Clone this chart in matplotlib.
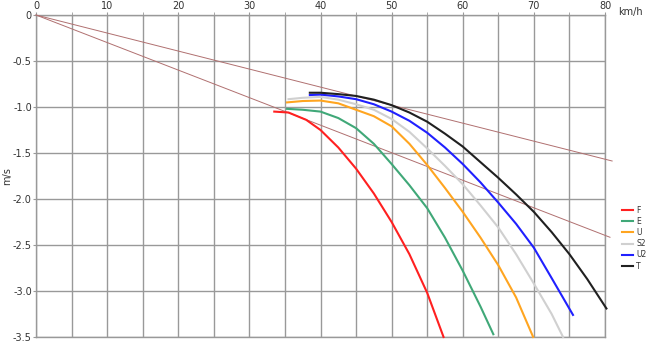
import matplotlib
matplotlib.use("Agg")
import matplotlib.pyplot as plt

# speed (km/h) vs sink rate (m/s)
F_X = [33.5, 35.5, 38.0, 40.0, 42.5, 45.0, 47.5, 50.0, 52.5, 55.0, 57.3]
F_Y = [-1.05, -1.06, -1.14, -1.25, -1.44, -1.67, -1.94, -2.25, -2.60, -3.02, -3.50]

E_X = [35.3, 37.5, 40.0, 42.5, 45.0, 47.5, 50.0, 52.5, 55.0, 57.5, 60.0, 62.5, 64.3]
E_Y = [-1.02, -1.03, -1.05, -1.12, -1.23, -1.40, -1.62, -1.85, -2.10, -2.42, -2.78, -3.17, -3.47]

U_X = [35.3, 37.5, 40.0, 42.5, 45.0, 47.5, 50.0, 52.5, 55.0, 57.5, 60.0, 62.5, 65.0, 67.5, 69.9]
U_Y = [-0.95, -0.935, -0.93, -0.96, -1.03, -1.10, -1.21, -1.40, -1.63, -1.88, -2.14, -2.42, -2.72, -3.07, -3.50]

S2_X = [35.5, 37.5, 40.0, 42.5, 45.0, 47.5, 50.0, 52.5, 55.0, 57.5, 60.0, 62.5, 65.0, 67.5, 70.0, 72.5, 74.1]
S2_Y = [-0.915, -0.90, -0.89, -0.92, -0.97, -1.03, -1.13, -1.27, -1.45, -1.64, -1.84, -2.07, -2.31, -2.60, -2.92, -3.25, -3.50]

U2_X = [38.5, 40.0, 42.5, 45.0, 47.5, 50.0, 52.5, 55.0, 57.5, 60.0, 62.5, 65.0, 67.5, 70.0, 72.5, 75.5]
U2_Y = [-0.87, -0.865, -0.885, -0.915, -0.97, -1.05, -1.15, -1.28, -1.44, -1.62, -1.82, -2.04, -2.27, -2.53, -2.86, -3.26]

T_X = [38.5, 40.0, 42.5, 45.0, 47.5, 50.0, 52.5, 55.0, 57.5, 60.0, 62.5, 65.0, 67.5, 70.0, 72.5, 75.0, 77.5, 80.2]
T_Y = [-0.845, -0.845, -0.86, -0.88, -0.92, -0.98, -1.06, -1.16, -1.29, -1.43, -1.60, -1.77, -1.95, -2.14, -2.36, -2.60, -2.87, -3.19]

# glide lines from the origin
GLIDE1_X = [0, 81.0]
GLIDE1_Y = [0, -1.587]
GLIDE2_X = [0, 80.7]
GLIDE2_Y = [0, -2.416]

SERIES = [
    ("F", F_X, F_Y, "#ff2020"),
    ("E", E_X, E_Y, "#40a878"),
    ("U", U_X, U_Y, "#ffa520"),
    ("S2", S2_X, S2_Y, "#d0d0d0"),
    ("U2", U2_X, U2_Y, "#2020ff"),
    ("T", T_X, T_Y, "#202020"),
]

X_TICKS = [0, 10, 20, 30, 40, 50, 60, 70, 80]
Y_TICKS = [0, -0.5, -1.0, -1.5, -2.0, -2.5, -3.0, -3.5]
Y_LABELS = ["0", "-0.5", "-1.0", "-1.5", "-2.0", "-2.5", "-3.0", "-3.5"]

W, H = 651, 343
fig = plt.figure(figsize=(W / 100, H / 100), dpi=100)
ax = fig.add_axes([36 / W, 6 / H, (605 - 36) / W, (337 - 15) / H])

grid_c = "#999999"
ax.set_xlim(0, 80)
ax.set_ylim(-3.5, 0)
ax.set_xticks([x for x in range(0, 81, 5)], minor=True)
ax.set_xticks(X_TICKS)
ax.set_xticklabels([str(x) for x in X_TICKS])
ax.set_yticks(Y_TICKS)
ax.set_yticklabels(Y_LABELS)
ax.xaxis.tick_top()
ax.grid(True, which="both", color=grid_c, linewidth=1.0)
ax.tick_params(axis="x", which="both", top=True, bottom=False, length=2,
               color=grid_c, labelsize=7, labelcolor="#333333", pad=1)
ax.tick_params(axis="y", length=2, color=grid_c, labelsize=7,
               labelcolor="#333333", pad=1)
for s in ax.spines.values():
    s.set_color(grid_c)
    s.set_linewidth(1.0)

ax.plot(GLIDE1_X, GLIDE1_Y, color="#b07070", lw=0.7, clip_on=False, zorder=3)
ax.plot(GLIDE2_X, GLIDE2_Y, color="#b07070", lw=0.7, clip_on=False, zorder=3)

for name, xs, ys, c in SERIES:
    ax.plot(xs, ys, color=c, lw=1.5, label=name, clip_on=False, zorder=4)

ax.set_ylabel("m/s", fontsize=7, color="#333333")
ax.yaxis.set_label_coords((12 - 36) / 569, 0.5)
fig.text(618 / W, 1 - 12 / H, "km/h", fontsize=7, color="#333333", va="center")

leg = fig.legend(loc="upper left", bbox_to_anchor=(618 / W, 1 - 202 / H),
                 frameon=False, fontsize=5.5, handlelength=1.5,
                 handletextpad=0.4, labelspacing=0.28, borderpad=0)
for t in leg.get_texts():
    t.set_color("#333333")

fig.savefig("out.png", dpi=100)
